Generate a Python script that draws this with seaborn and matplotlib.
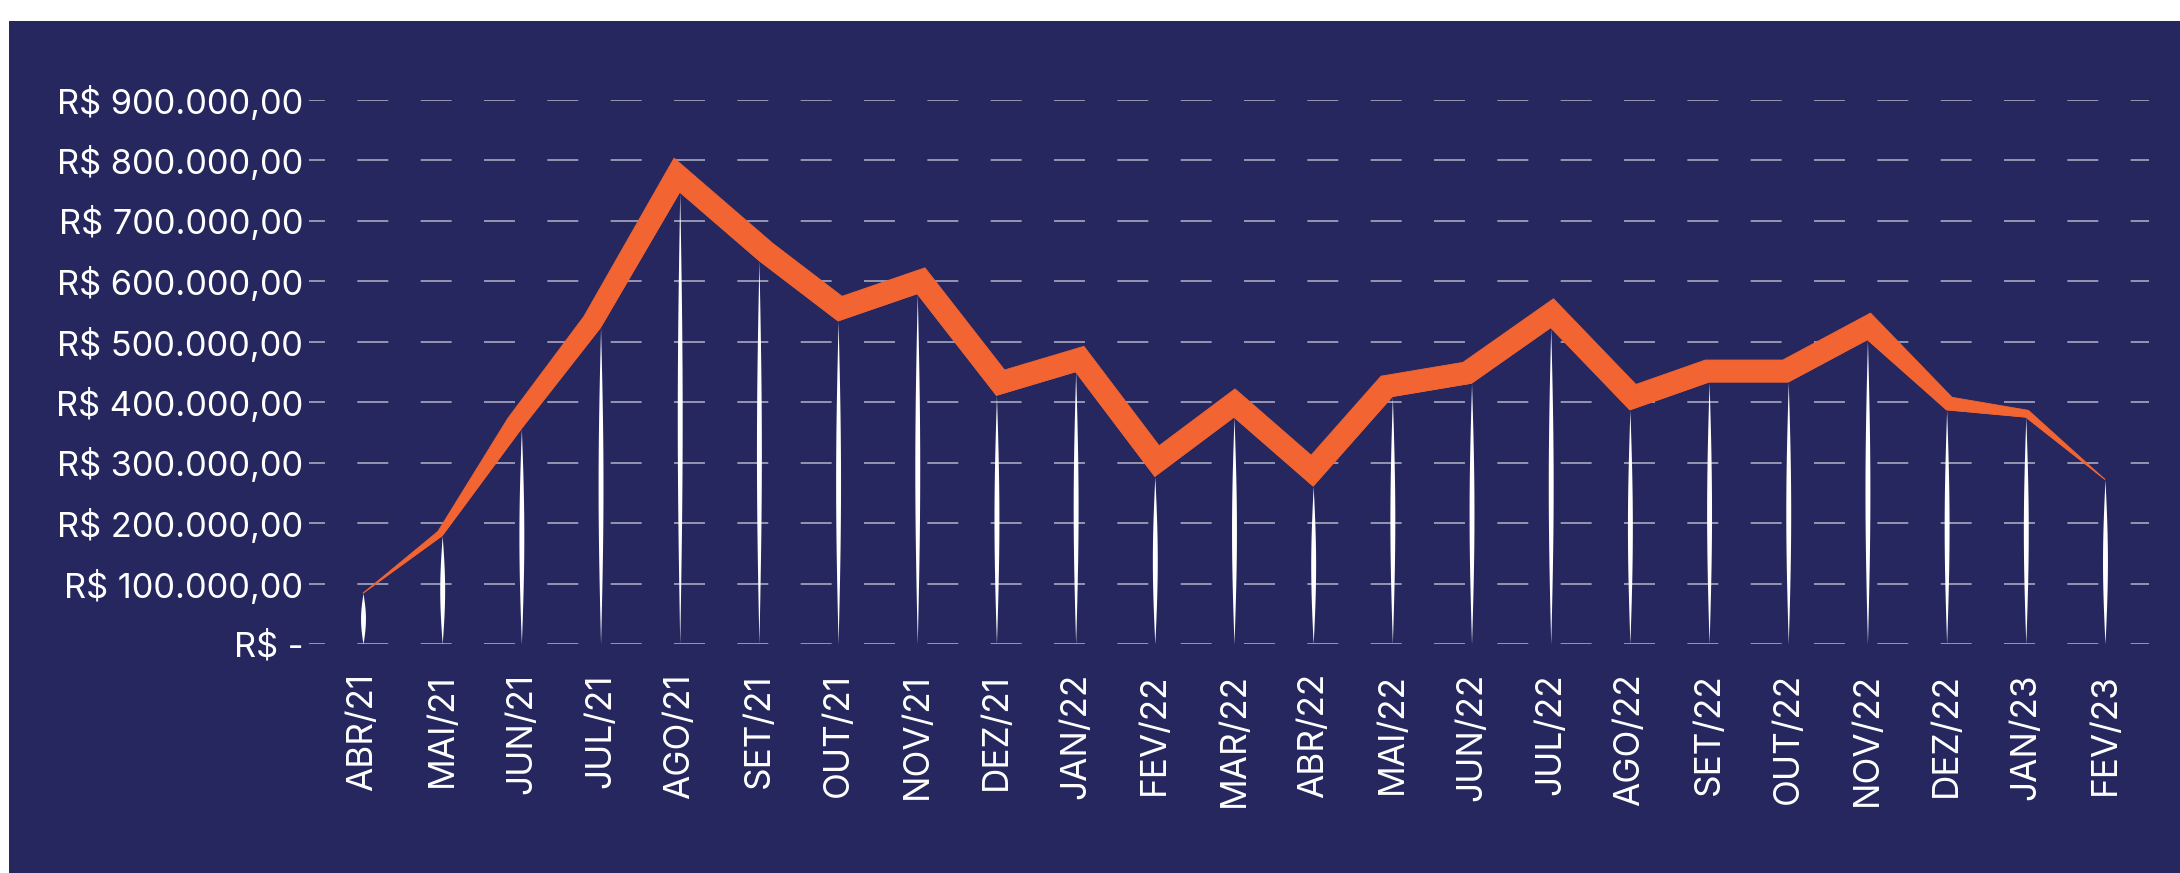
import numpy as np
import matplotlib
matplotlib.use("Agg")  # no display in the sandbox
import matplotlib.pyplot as plt
from matplotlib.patches import Rectangle
from matplotlib.ticker import FuncFormatter, FixedLocator
import seaborn as sns

# ── data ─────────────────────────────────────────────────────────────────────
meses = ["ABR/21", "MAI/21", "JUN/21", "JUL/21", "AGO/21", "SET/21", "OUT/21",
         "NOV/21", "DEZ/21", "JAN/22", "FEV/22", "MAR/22", "ABR/22", "MAI/22",
         "JUN/22", "JUL/22", "AGO/22", "SET/22", "OUT/22", "NOV/22", "DEZ/22",
         "JAN/23", "FEV/23"]
faturamento = [84000, 179000, 356000, 523000, 747000, 634000, 534000,
               579000, 411000, 450000, 277000, 375000, 261000, 409000,
               431000, 523000, 387000, 433000, 433000, 503000, 387000,
               375000, 272000]
y_ticks = [0, 100000, 200000, 300000, 400000, 500000, 600000, 700000, 800000, 900000]

# thickness (pixels) of the orange ribbon at each month
band_px = [0, 6, 17, 20, 22, 22, 22, 22, 22, 22, 22, 22, 22, 22, 22, 22, 22,
           22, 22, 22, 13, 7, 0]

NAVY = "#25275E"
ORANGE = "#F26532"
W, H, DPI = 2180, 873, 100

sns.set_style("dark", {"axes.facecolor": "none", "figure.facecolor": "white"})
plt.rcParams["font.family"] = ["Inter", "DejaVu Sans"]
plt.rcParams["lines.scale_dashes"] = False

fig = plt.figure(figsize=(W / DPI, H / DPI), dpi=DPI)
fig.patches.append(Rectangle((9 / W, 0), 1 - 9 / W, 1 - 21 / H,
                             transform=fig.transFigure, facecolor=NAVY,
                             edgecolor="none", zorder=-10))

ax = fig.add_axes([309 / W, (H - 644) / H, (2149 - 309) / W, (644 - 99.5) / H])
x = np.arange(len(meses))
ax.set_xlim(-0.682, 22.556)
ax.set_ylim(0, 900000)

# ── white spindles (one per month) ───────────────────────────────────────────
t = np.linspace(0, 1, 80)
hw = 0.031 * np.sin(np.pi * t)
for i, v in zip(x, faturamento):
    ax.fill_betweenx(t * v, i - hw, i + hw, color="white", lw=0, zorder=3)

# ── orange ribbon: lower edge on the values, upper edge offset (mitred) ──────
pts = ax.transData.transform(np.column_stack([x, faturamento]))
seg = np.diff(pts, axis=0)
seg /= np.linalg.norm(seg, axis=1)[:, None]
normals = np.column_stack([-seg[:, 1], seg[:, 0]])
miter = np.zeros_like(pts)
miter[0], miter[-1] = normals[0], normals[-1]
for k in range(1, len(pts) - 1):
    n1, n2 = normals[k - 1], normals[k]
    miter[k] = (n1 + n2) / (1 + n1 @ n2)
upper = pts + np.array(band_px)[:, None] * miter
poly = ax.transData.inverted().transform(np.vstack([pts, upper[::-1]]))
ax.fill(poly[:, 0], poly[:, 1], color=ORANGE, lw=0.6, ec=ORANGE, zorder=4)
sns.lineplot(x=x, y=faturamento, ax=ax, color=ORANGE, lw=0.6, zorder=4)

# ── axes styling ─────────────────────────────────────────────────────────────
def brl(v, pos):
    if v == 0:
        return "R$ -"
    s = f"{v:,.2f}".replace(",", "X").replace(".", ",").replace("X", ".")
    return "R$ " + s

ax.yaxis.set_major_locator(FixedLocator(y_ticks))
ax.yaxis.set_major_formatter(FuncFormatter(brl))
ax.set_xticks(x)
ax.set_xticklabels(meses, rotation=90)
ax.tick_params(axis="y", length=0, pad=4.3, labelsize=24.8, labelcolor="white")
ax.tick_params(axis="x", length=0, pad=21, labelsize=25.3, labelcolor="white")
ax.grid(False)
ax.yaxis.grid(True, color="white", alpha=0.55, lw=1.3,
              linestyle=(10.8, (22.3, 23.3)), zorder=1)
ax.set_axisbelow(True)
for sp in ax.spines.values():
    sp.set_visible(False)
ax.set_xlabel("")
ax.set_ylabel("")

fig.savefig("out.png", dpi=DPI)
